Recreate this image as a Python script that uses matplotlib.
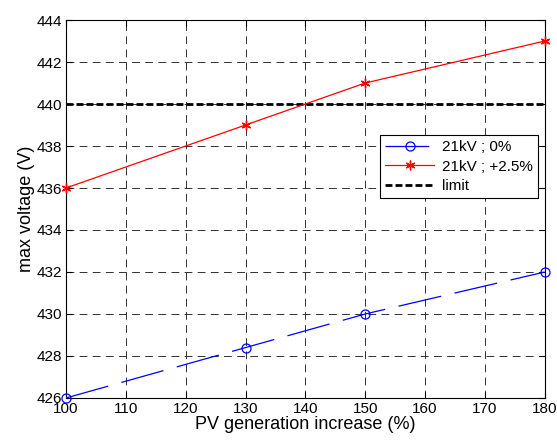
import matplotlib
matplotlib.use("Agg")
import matplotlib.pyplot as plt

# data
pv_increase = [100, 130, 150, 180]
v_21kv_0 = [426.0, 428.4, 430.0, 432.0]
v_21kv_25 = [436.0, 439.0, 441.0, 443.0]
limit_v = 440
xticks = list(range(100, 181, 10))
yticks = list(range(426, 445, 2))

plt.rcParams["font.family"] = ["Liberation Sans", "DejaVu Sans"]

fig = plt.figure(figsize=(5.57, 4.4), dpi=100)
ax = fig.add_axes([0.1185, 0.0955, 0.8595, 0.859])

# asterisk marker like matlab '*'
ax.plot(pv_increase, v_21kv_0, color="blue", linestyle=(0, (35, 11)), lw=0.9,
        marker="o", markersize=6.5, markerfacecolor="none", markeredgewidth=0.9,
        label="21kV ; 0%", clip_on=False, zorder=3)
ax.plot(pv_increase, v_21kv_25, color="red", lw=0.9, marker=(6, 2, 0), markersize=7,
        markeredgewidth=1.0, label="21kV ; +2.5%", clip_on=False, zorder=3)
ax.axhline(limit_v, color="black", linestyle=(0, (2.5, 1.1)), lw=2.0, label="limit")

ax.set_xlim(100, 180)
ax.set_ylim(426, 444)
ax.set_xticks(xticks)
ax.set_yticks(yticks)
ax.tick_params(direction="in", top=True, right=True, labelsize=11, length=4, pad=3)
ax.grid(True, color="#303030", linestyle=(0, (8, 5.5)), lw=0.7)
for s in ax.spines.values():
    s.set_linewidth(0.8)

ax.set_xlabel("PV generation increase (%)", fontsize=13, labelpad=0)
ax.set_ylabel("max voltage (V)", fontsize=13, labelpad=1)

leg = ax.legend(loc="upper left", bbox_to_anchor=(0.6555, 0.696), fontsize=11,
                fancybox=False, framealpha=1, edgecolor="black", borderaxespad=0,
                borderpad=0.35, handlelength=3.2, handletextpad=0.5, labelspacing=0.35)
leg.get_frame().set_linewidth(0.8)

fig.savefig("out.png", dpi=100)
